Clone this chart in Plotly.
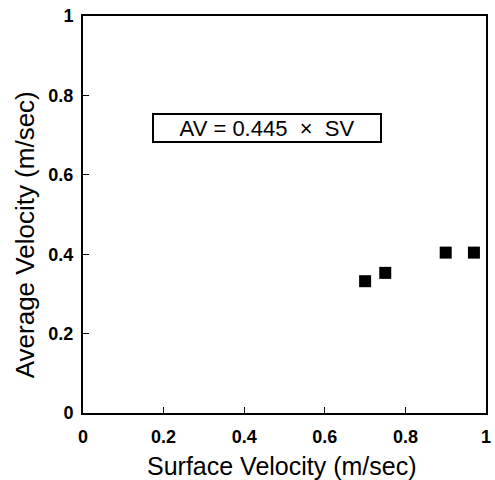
import plotly.graph_objects as go

surface_velocity = [0.70, 0.75, 0.90, 0.97]
average_velocity = [0.332, 0.353, 0.404, 0.404]
tick_vals = [0, 0.2, 0.4, 0.6, 0.8, 1]
tick_text = ["0", "0.2", "0.4", "0.6", "0.8", "1"]
x_title = "Surface Velocity (m/sec)"
y_title = "Average Velocity (m/sec)"
equation_text = "AV = 0.445  \u00d7  SV"

fig = go.Figure()
fig.add_trace(go.Scatter(
    x=surface_velocity, y=average_velocity, mode="markers",
    marker=dict(symbol="square", size=12, color="black"),
    showlegend=False,
))

FONT = "Liberation Sans, Arial"
axis_common = dict(
    range=[0, 1], tickvals=tick_vals, ticktext=tick_text,
    showgrid=False, zeroline=False, showline=True, linecolor="black",
    linewidth=2, mirror=True, ticks="inside", ticklen=6, tickcolor="black",
    tickwidth=1, automargin=False,
    tickfont=dict(family=FONT, size=18, color="black", weight="bold"),
)

fig.update_layout(
    width=495, height=480,
    margin=dict(l=83, r=9, t=16, b=67),
    plot_bgcolor="white", paper_bgcolor="white",
    xaxis=dict(axis_common, ticklabelstandoff=6),
    yaxis=dict(axis_common, ticklabelstandoff=4),
    annotations=[
        dict(x=0.456, y=0.718, xref="x", yref="y", text=equation_text, showarrow=False,
             font=dict(family=FONT, size=22, color="black"),
             bordercolor="black", borderwidth=2, borderpad=3, bgcolor="white",
             width=220, height=20),
        dict(x=0.494, y=-0.1335, xref="paper", yref="paper", text=x_title,
             showarrow=False, xanchor="center", yanchor="middle",
             font=dict(family=FONT, size=25, color="black")),
        dict(x=-0.144, y=0.45, xref="paper", yref="paper", text=y_title,
             showarrow=False, xanchor="center", yanchor="middle", textangle=-90,
             font=dict(family=FONT, size=26, color="black")),
    ],
)

fig.write_html("out.html", config={"displayModeBar": False},
               post_script="document.body.style.margin='0';")
